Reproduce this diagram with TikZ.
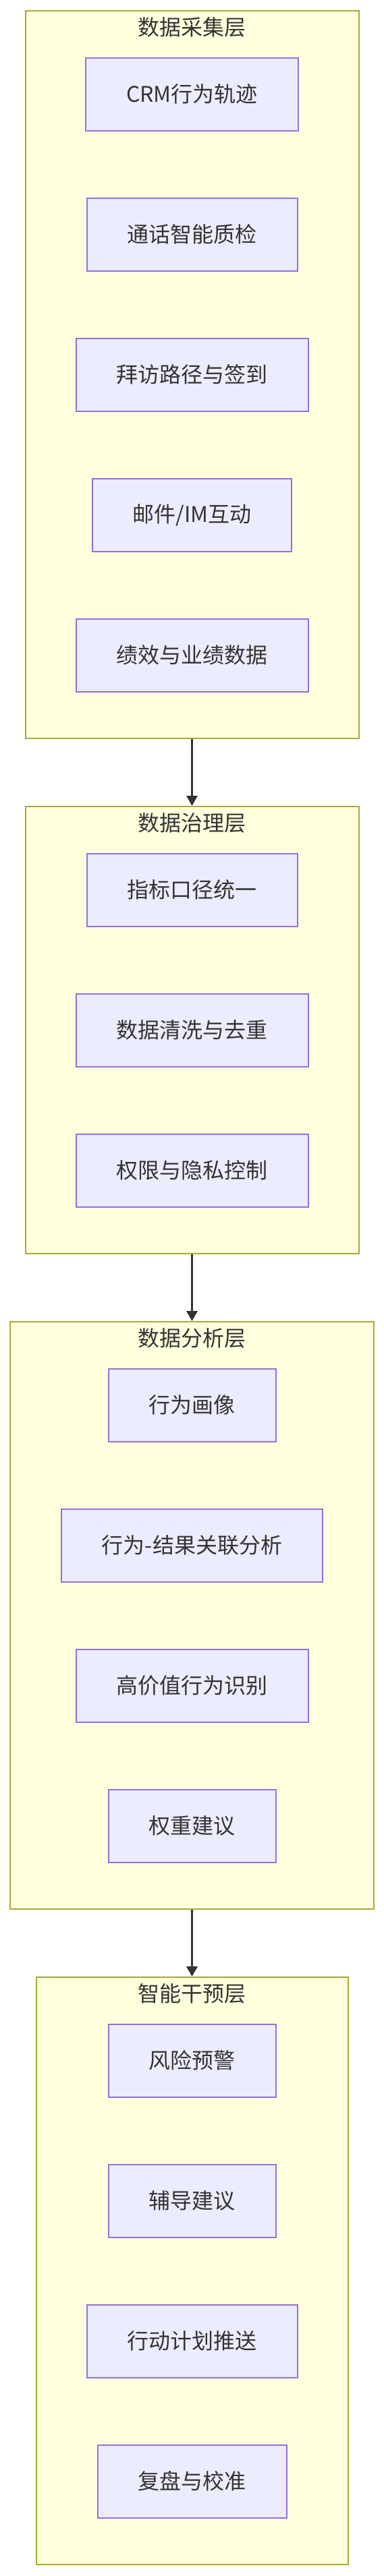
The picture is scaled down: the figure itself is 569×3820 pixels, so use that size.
\documentclass[tikz,border=0pt]{standalone}
\usepackage{fontspec}
\setmainfont{Noto Sans CJK SC}
\usepackage{tikz}
\usetikzlibrary{arrows.meta}
\definecolor{layerfill}{HTML}{FFFFDE}
\definecolor{layerline}{HTML}{AAAA33}
\definecolor{boxfill}{HTML}{ECECFF}
\definecolor{boxline}{HTML}{9370DB}
\definecolor{ink}{HTML}{333333}
\tikzset{
  layer/.style = {draw=layerline, fill=layerfill, line width=2pt, minimum width=494pt},
  ltitle/.style = {text=ink, inner sep=0pt, font=\fontsize{32}{38}\selectfont},
  item/.style = {draw=boxline, fill=boxfill, line width=2pt, text=ink,
    inner xsep=60pt, inner ysep=0pt, minimum height=108pt,
    font=\fontsize{32}{38}\selectfont},
  flow/.style = {draw=ink, line width=3.5pt, -{Triangle[length=15pt,width=16pt]}}
}

\begin{document}
\begin{tikzpicture}[x=1pt, y=-1pt]
  \useasboundingbox (0,0) rectangle (569,3820);
  % layers
  \node[layer, minimum height=1079pt] (L1) at (284.5,555.5) {};
  \node[layer, minimum height=663pt] (L2) at (284.5,1527.5) {};
  \node[layer, minimum height=871pt, minimum width=538.7pt] (L3) at (284.5,2395.5) {};
  \node[layer, minimum height=871pt, minimum width=462pt] (L4) at (284.5,3367.5) {};
  \node[ltitle] (t1) at (284.5,40) {数据采集层};
  \node[ltitle] (t2) at (284.5,1220) {数据治理层};
  \node[ltitle] (t3) at (284.5,1984) {数据分析层};
  \node[ltitle] (t4) at (284.5,2956) {智能干预层};
  % items
  \node[item] (0) at (284.5,139.5) {CRM行为轨迹};
  \node[item] (1) at (284.5,347.5) {通话智能质检};
  \node[item] (2) at (284.5,555.5) {拜访路径与签到};
  \node[item] (3) at (284.5,763.5) {邮件/IM互动};
  \node[item] (4) at (284.5,971.5) {绩效与业绩数据};
  \node[item] (5) at (284.5,1319.5) {指标口径统一};
  \node[item] (6) at (284.5,1527.5) {数据清洗与去重};
  \node[item] (7) at (284.5,1735.5) {权限与隐私控制};
  \node[item] (8) at (284.5,2083.5) {行为画像};
  \node[item] (9) at (284.5,2291.5) {行为-结果关联分析};
  \node[item] (10) at (284.5,2499.5) {高价值行为识别};
  \node[item] (11) at (284.5,2707.5) {权重建议};
  \node[item] (12) at (284.5,3055.5) {风险预警};
  \node[item] (13) at (284.5,3263.5) {辅导建议};
  \node[item] (14) at (284.5,3471.5) {行动计划推送};
  \node[item] (15) at (284.5,3679.5) {复盘与校准};
  \draw[flow] (L1)--(L2);
  \draw[flow] (L2)--(L3);
  \draw[flow] (L3)--(L4);
\end{tikzpicture}
\end{document}
